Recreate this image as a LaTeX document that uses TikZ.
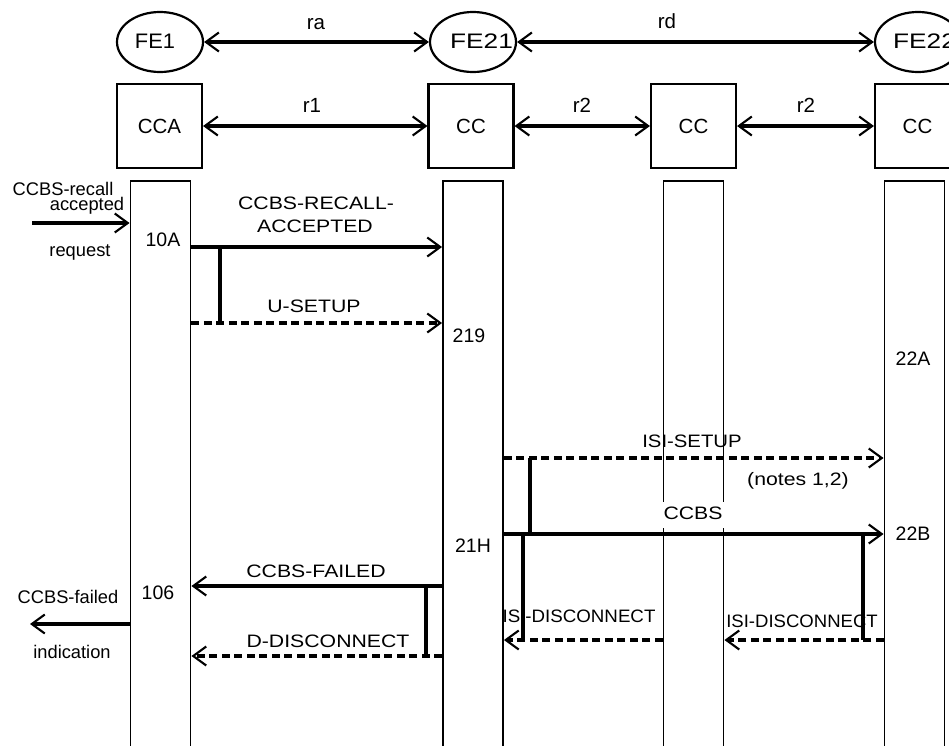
\documentclass[tikz,border=0pt]{standalone}
\usepackage{graphicx}
\usepackage{fontspec}
\setmainfont{Liberation Sans}
\usetikzlibrary{arrows.meta,shapes.geometric}
\newcommand\msgwide[1]{\scalebox{1.18}[1]{#1}}
\newcommand\mystretch[2]{\scalebox{#1}[1]{#2}}
\begin{document}
\begin{tikzpicture}[x=1pt,y=-1pt,
  fe/.style={draw,ellipse,line width=2.2pt,minimum width=86pt,minimum height=60pt,inner sep=1pt},
  fetext/.style={font=\fontsize{21}{23}\selectfont,inner sep=0pt,anchor=base},
  ent/.style={draw,line width=2.1pt,minimum width=85pt,minimum height=84pt,inner sep=0pt,font=\fontsize{20.5}{22}\selectfont},
  life/.style={draw,line width=1.9pt,minimum width=60pt,minimum height=600pt,anchor=north,inner sep=0pt},
  lbl/.style={font=\fontsize{20.5}{22}\selectfont,anchor=base,inner sep=0pt},
  msg/.style={font=\fontsize{18}{20}\selectfont,anchor=base,inner sep=0pt},
  side/.style={font=\fontsize{18.3}{20}\selectfont,anchor=base,inner sep=0pt},
  st/.style={font=\fontsize{19.5}{22}\selectfont,anchor=base,inner sep=0pt},
  both/.style={line width=3.1pt,{Straight Barb[length=13pt,width=19pt,line width=2.1pt]}-{Straight Barb[length=13pt,width=19pt,line width=2.1pt]}},
  sarr/.style={line width=3.1pt,-{Straight Barb[length=13pt,width=19pt,line width=2.1pt]}},
  darr/.style={sarr,dash pattern=on 8pt off 4.5pt},
  barline/.style={line width=3.1pt}
]
\useasboundingbox (0,0) rectangle (949,745);
\clip (0,0) rectangle (949,745);

% functional entities
\node[fe] (fe1) at (160,42) {};
\node[fe] (fe21) at (473,42) {};
\node[fe] (fe22) at (918,42) {};
\node[fetext] (fe1t) at (155,48) {\mystretch{1.04}{FE1}};
\node[fetext] (fe21t) at (481.5,48) {\mystretch{1.25}{FE21}};
\node[fetext] (fe22t) at (924.5,48) {\mystretch{1.25}{FE22}};

\draw[both] (fe1.east) -- (fe21.west);
\draw[both] (fe21.east) -- (fe22.west);
\node[lbl] (ra) at (316,29) {ra};
\node[lbl] (rd) at (667,28) {rd};

% entity boxes
\node[ent] (cca) at (159.5,126) {CCA};
\node[ent] (cc1) at (471,126) {CC};
\node[ent] (cc2) at (693.5,126) {CC};
\node[ent] (cc3) at (917.5,126) {CC};
\draw[both] (cca.east) -- (cc1.west);
\draw[both] (cc1.east) -- (cc2.west);
\draw[both] (cc2.east) -- (cc3.west);
\node[lbl] (r1) at (312,112) {r1};
\node[lbl] (r2a) at (582,112) {r2};
\node[lbl] (r2b) at (806,112) {r2};

% lifelines
\node[life] (l1) at (160.5,180) {};
\node[life] (l2) at (473,180) {};
\node[life] (l3) at (693.5,180) {};
\node[life] (l4) at (914.5,180) {};

% coordinates on lifelines
\coordinate (in0) at (32,223);
\coordinate (in1) at (l1.west |- in0);
\coordinate (a1) at (l1.east |- 0,247);
\coordinate (a2) at (l2.west |- 0,247);
\coordinate (b1) at (l1.east |- 0,323);
\coordinate (b2) at (l2.west |- 0,323);
\coordinate (bar1t) at (220,247);
\coordinate (bar1b) at (220,323);
\coordinate (c1) at (l2.east |- 0,458);
\coordinate (c2) at (l4.west |- 0,458);
\coordinate (d1) at (l2.east |- 0,534);
\coordinate (d2) at (l4.west |- 0,534);
\coordinate (bar2t) at (530,458);
\coordinate (bar2b) at (530,534);
\coordinate (e1) at (l3.west |- 0,640);
\coordinate (e2) at (l2.east |- 0,640);
\coordinate (bar3t) at (523,534);
\coordinate (bar3b) at (523,640);
\coordinate (f1) at (l4.west |- 0,640);
\coordinate (f2) at (l3.east |- 0,640);
\coordinate (bar4t) at (863,534);
\coordinate (bar4b) at (863,640);
\coordinate (g1) at (l2.west |- 0,586);
\coordinate (g2) at (l1.east |- 0,586);
\coordinate (h1) at (l2.west |- 0,656);
\coordinate (h2) at (l1.east |- 0,656);
\coordinate (bar5t) at (426,586);
\coordinate (bar5b) at (426,656);
\coordinate (out1) at (l1.west |- 0,624);
\coordinate (out0) at (30,624);

% labels
\node[side] (t1) at (63,195) {CCBS-recall};
\node[side] (t2) at (87,210) {accepted};
\node[side] (t3) at (80,256) {request};
\node[st] (s10a) at (163,246) {10A};
\node[msg] (m1a) at (316,209) {\msgwide{CCBS-RECALL-}};
\node[msg] (m1b) at (315,232) {\msgwide{ACCEPTED}};
\node[msg] (m2) at (314,312) {\msgwide{U-SETUP}};
\node[st] (s219) at (469,342) {219};
\node[st] (s22a) at (913,365) {22A};
\node[msg] (m3) at (692,447) {\mystretch{1.13}{ISI-SETUP}};
\node[msg] (n12) at (798,485) {\msgwide{(notes 1,2)}};
\node[msg,fill=white,inner xsep=2pt,inner ysep=4pt,text depth=5pt] (m4) at (693,519) {\msgwide{CCBS}};
\node[st] (s22b) at (913,540) {22B};
\node[st] (s21h) at (473,552) {21H};
\node[msg] (m5) at (579,622) {\mystretch{1.04}{ISI-DISCONNECT}};
\node[msg] (m6) at (802,627) {\mystretch{1.03}{ISI-DISCONNECT}};
\node[msg] (m7) at (316,577) {\msgwide{CCBS-FAILED}};
\node[st] (s106) at (158,599) {106};
\node[side] (t4) at (68,603) {CCBS-failed};
\node[side] (t5) at (72,658) {indication};
\node[msg] (m8) at (328,647) {\msgwide{D-DISCONNECT}};

% messages
\draw[sarr] (in0) -- (in1);
\draw[sarr] (a1) -- (a2);
\draw[barline] (bar1t) -- (bar1b);
\draw[darr] (b1) -- (b2);
\draw[darr] (c1) -- (c2);
\draw[barline] (bar2t) -- (bar2b);
\draw[sarr] (d1) -- (d2);
\draw[barline] (bar3t) -- (bar3b);
\draw[darr] (e1) -- (e2);
\draw[barline] (bar4t) -- (bar4b);
\draw[darr] (f1) -- (f2);
\draw[sarr] (g1) -- (g2);
\draw[barline] (bar5t) -- (bar5b);
\draw[darr] (h1) -- (h2);
\draw[sarr] (out1) -- (out0);
\end{tikzpicture}
\end{document}
